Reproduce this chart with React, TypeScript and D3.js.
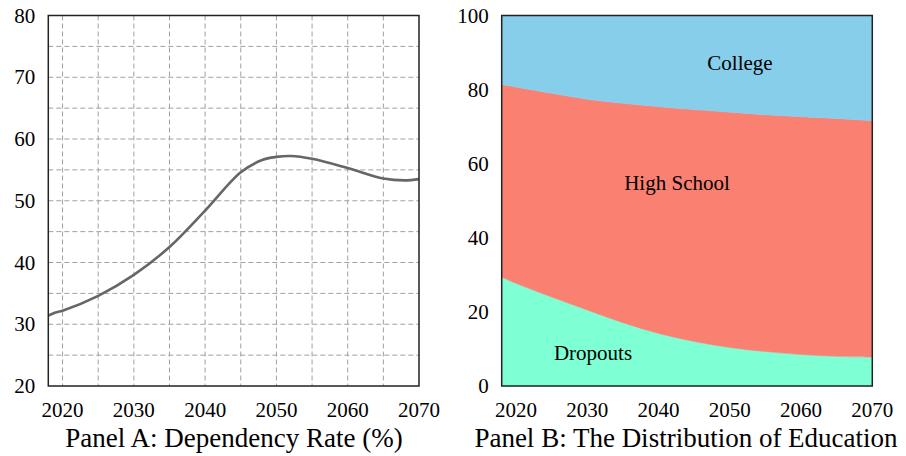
import React from "react";
import * as d3 from "d3";

// Panel A: dependency rate (%)
const depYears = [2018, 2019, 2020, 2025, 2030, 2035, 2040, 2045, 2048, 2050, 2052, 2055, 2060, 2065, 2068, 2070];
const depRate = [31.4, 31.9, 32.2, 34.6, 38.0, 42.5, 48.4, 54.6, 56.6, 57.1, 57.25, 56.8, 55.3, 53.6, 53.3, 53.5];

// Panel B: distribution of education (shares, %)
const eduYears = [2018, 2020, 2025, 2030, 2035, 2040, 2045, 2050, 2055, 2060, 2065, 2070];
const dropouts = [29.4, 27.7, 24.0, 20.5, 17.1, 14.2, 12.0, 10.4, 9.3, 8.5, 8.0, 7.8];
const highSchool = [52.0, 53.0, 55.0, 56.9, 59.2, 61.2, 62.6, 63.5, 63.9, 64.2, 64.2, 63.8];
const college = [18.6, 19.3, 21.0, 22.6, 23.7, 24.6, 25.4, 26.1, 26.8, 27.3, 27.8, 28.4];

const xTicks = [2020, 2030, 2040, 2050, 2060, 2070];
const aYTicks = [20, 30, 40, 50, 60, 70, 80];
const bYTicks = [0, 20, 40, 60, 80, 100];

const FONT = "'Liberation Serif', 'DejaVu Serif', serif";
const top = 15.5;
const bottom = 386;
const txt = { fontFamily: FONT };
const TICK = 21;
const TITLE = 27;

const PanelA = () => {
  const x = d3.scaleLinear().domain([2018, 2070]).range([48.3, 419]);
  const y = d3.scaleLinear().domain([20, 80]).range([bottom, top]);
  const line = d3
    .line<number>()
    .x((d, i) => x(depYears[i]))
    .y((d) => y(d))
    .curve(d3.curveCatmullRom.alpha(0.5));
  const gridX = d3.range(2020, 2070, 5);
  const gridY = d3.range(25, 80, 5);
  return (
    <g>
      {gridX.map((v) => (
        <line key={"gx" + v} x1={x(v)} x2={x(v)} y1={top} y2={bottom}
          stroke="#a0a0a0" strokeWidth={1} strokeDasharray="5,3" />
      ))}
      {gridY.map((v) => (
        <line key={"gy" + v} x1={x(2018)} x2={x(2070)} y1={y(v)} y2={y(v)}
          stroke="#a0a0a0" strokeWidth={1} strokeDasharray="5,3" />
      ))}
      <path d={line(depRate) || ""} fill="none" stroke="#666" strokeWidth={2.6} />
      <rect x={x(2018)} y={top} width={x(2070) - x(2018)} height={bottom - top}
        fill="none" stroke="#222" strokeWidth={1.5} />
      {aYTicks.map((v) => (
        <text key={"ay" + v} x={x(2018) - 13} y={y(v) + 7} textAnchor="end"
          fontSize={TICK} style={txt}>{v}</text>
      ))}
      {xTicks.map((v) => (
        <text key={"ax" + v} x={x(v)} y={417} textAnchor="middle"
          fontSize={TICK} style={txt}>{v}</text>
      ))}
      <text x={234} y={447} textAnchor="middle" fontSize={TITLE} style={txt}>
        Panel A: Dependency Rate (%)
      </text>
    </g>
  );
};

const PanelB = () => {
  const x = d3.scaleLinear().domain([2018, 2070]).range([501.7, 872.3]);
  const y = d3.scaleLinear().domain([0, 100]).range([bottom, top]);
  const rows = eduYears.map((yr, i) => ({
    year: yr,
    dropouts: dropouts[i],
    highSchool: highSchool[i],
    college: college[i],
  }));
  const keys = ["dropouts", "highSchool", "college"];
  const colors: Record<string, string> = {
    dropouts: "#7FFFD4",
    highSchool: "#FA8072",
    college: "#87CEEB",
  };
  const series = d3.stack<any>().keys(keys)(rows);
  const area = d3
    .area<any>()
    .x((d) => x(d.data.year))
    .y0((d) => y(d[0]))
    .y1((d) => y(d[1]))
    .curve(d3.curveCatmullRom.alpha(0.5));
  return (
    <g>
      {series.map((s) => (
        <path key={s.key} d={area(s) || ""} fill={colors[s.key]} stroke={colors[s.key]} strokeWidth={0.5} />
      ))}
      <rect x={x(2018)} y={top} width={x(2070) - x(2018)} height={bottom - top}
        fill="none" stroke="#222" strokeWidth={1.5} />
      <text x={740} y={70} textAnchor="middle" fontSize={TICK} style={txt}>College</text>
      <text x={677} y={190} textAnchor="middle" fontSize={TICK} style={txt}>High School</text>
      <text x={593} y={360} textAnchor="middle" fontSize={TICK} style={txt}>Dropouts</text>
      {bYTicks.map((v) => (
        <text key={"by" + v} x={x(2018) - 13} y={y(v) + 7} textAnchor="end"
          fontSize={TICK} style={txt}>{v}</text>
      ))}
      {xTicks.map((v) => (
        <text key={"bx" + v} x={x(v)} y={417} textAnchor="middle"
          fontSize={TICK} style={txt}>{v}</text>
      ))}
      <text x={686} y={447} textAnchor="middle" fontSize={TITLE} style={txt}>
        Panel B: The Distribution of Education
      </text>
    </g>
  );
};

export default function App() {
  return (
    <svg width={906} height={456} style={{ position: "absolute", left: 0, top: 0, background: "#fff" }}>
      <PanelA />
      <PanelB />
    </svg>
  );
}
